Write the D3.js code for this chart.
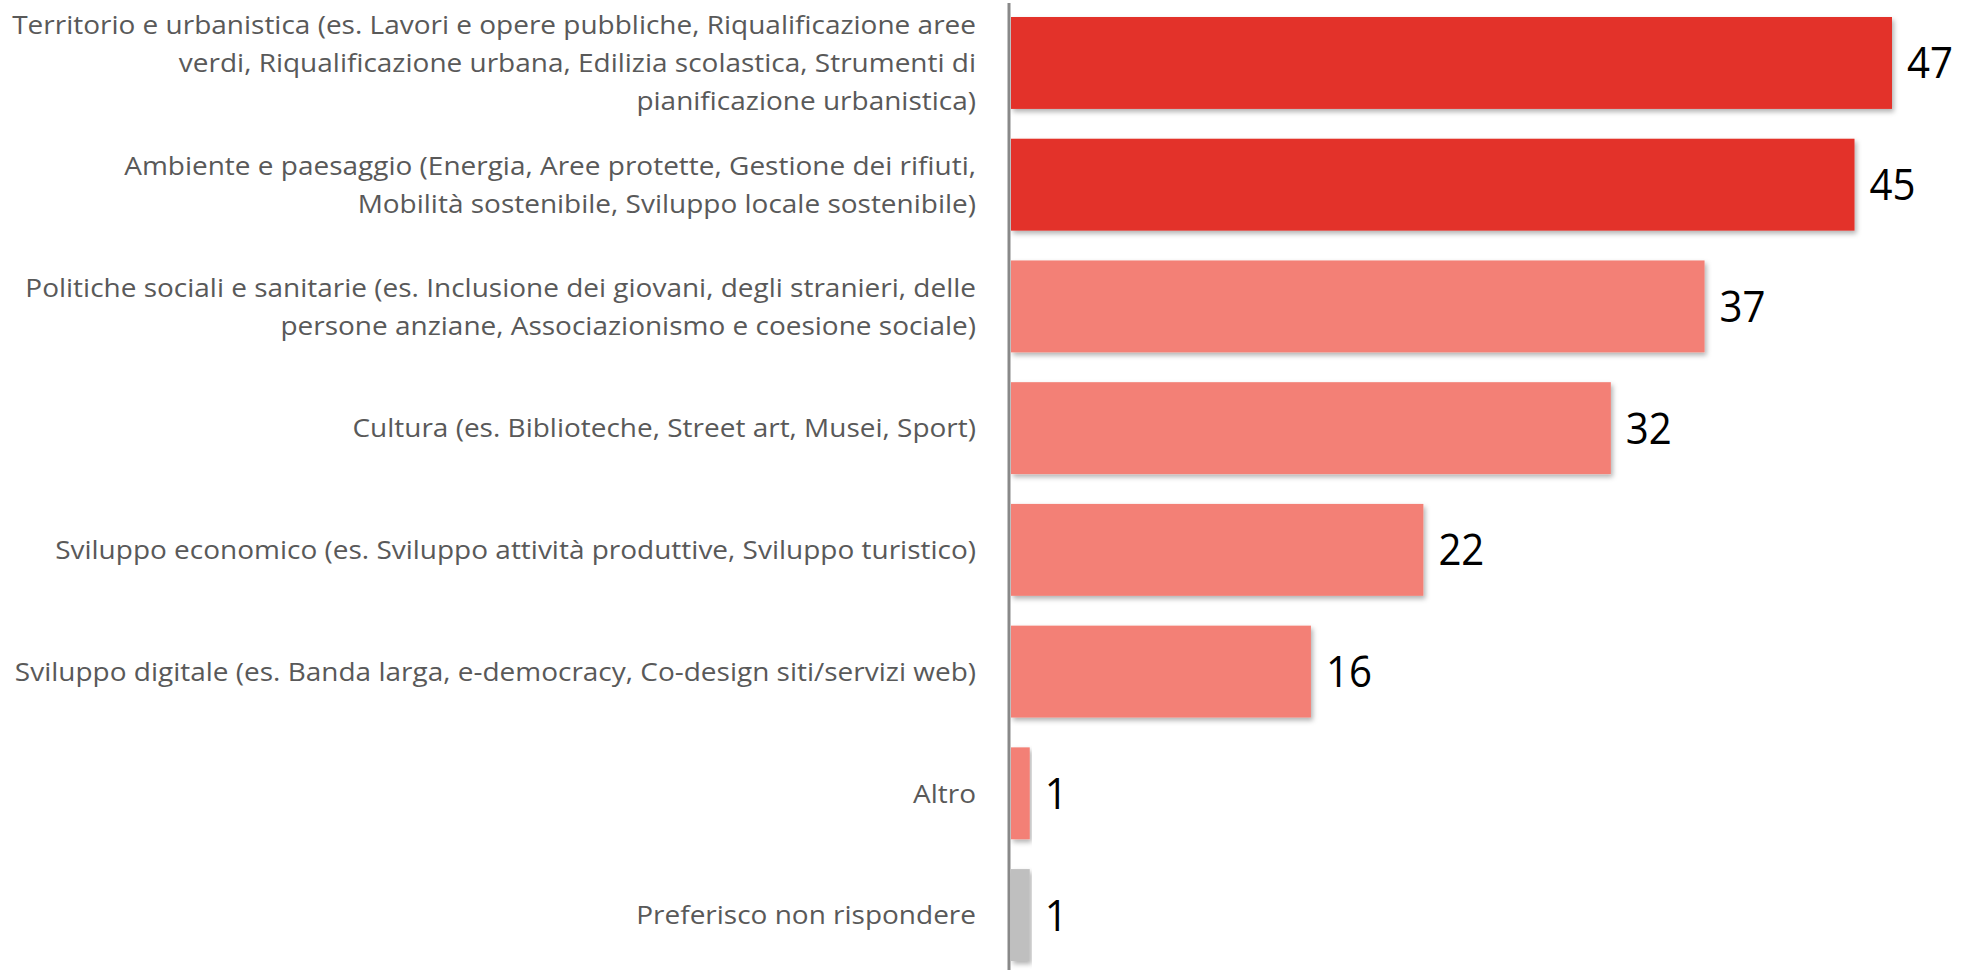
<!DOCTYPE html>
<html>
<head>
<meta charset="utf-8">
<script src="https://cdn.jsdelivr.net/npm/d3@7"></script>
<style>
  body { margin: 0; background: #fff; }
  svg { display: block; }
</style>
</head>
<body>
<div id="container"></div>
<script>
// categories, one entry per bar, already broken into lines as in the source
var categories = [
  ["Territorio e urbanistica (es. Lavori e opere pubbliche, Riqualificazione aree",
   "verdi, Riqualificazione urbana, Edilizia scolastica, Strumenti di",
   "pianificazione urbanistica)"],
  ["Ambiente e paesaggio (Energia, Aree protette, Gestione dei rifiuti,",
   "Mobilità sostenibile, Sviluppo locale sostenibile)"],
  ["Politiche sociali e sanitarie (es. Inclusione dei giovani, degli stranieri, delle",
   "persone anziane, Associazionismo e coesione sociale)"],
  ["Cultura (es. Biblioteche, Street art, Musei, Sport)"],
  ["Sviluppo economico (es. Sviluppo attività produttive, Sviluppo turistico)"],
  ["Sviluppo digitale (es. Banda larga, e-democracy, Co-design siti/servizi web)"],
  ["Altro"],
  ["Preferisco non rispondere"]
];
var values = [47, 45, 37, 32, 22, 16, 1, 1];
var groups = ["top", "top", "other", "other", "other", "other", "other", "none"];

var colors = { top: "#e3302a", other: "#f38076", none: "#bfbfbf" };

var width = 1961, height = 970;
var axisX = 1009, labelRight = 976;

var svg = d3.select("#container").append("svg")
    .attr("width", width)
    .attr("height", height);

var defs = svg.append("defs");
var filter = defs.append("filter")
    .attr("id", "shadow")
    .attr("x", "-5%").attr("y", "-10%")
    .attr("width", "115%").attr("height", "130%");
filter.append("feDropShadow")
    .attr("dx", 2).attr("dy", 3)
    .attr("stdDeviation", 2.5)
    .attr("flood-color", "#000")
    .attr("flood-opacity", 0.3);

var idx = d3.range(values.length);

var y = d3.scaleBand()
    .domain(idx)
    .range([17, 961])
    .paddingInner(0.245)
    .paddingOuter(0);

var x = d3.scaleLinear()
    .domain([0, 47])
    .range([axisX + 2, 1892]);

// bars
svg.selectAll(".bar")
    .data(idx)
  .enter().append("rect")
    .attr("class", "bar")
    .attr("x", x(0))
    .attr("y", function(i) { return y(i); })
    .attr("width", function(i) { return x(values[i]) - x(0); })
    .attr("height", y.bandwidth())
    .attr("fill", function(i) { return colors[groups[i]]; })
    .attr("filter", "url(#shadow)");

// vertical axis line
svg.append("line")
    .attr("x1", axisX).attr("x2", axisX)
    .attr("y1", 3).attr("y2", height)
    .attr("stroke", "#898989")
    .attr("stroke-width", 3);

// category labels
var labelFont = 25.5, lineHeight = 38;
var labelG = svg.append("g")
    .attr("font-family", "'Open Sans', sans-serif")
    .attr("font-size", labelFont)
    .attr("fill", "#595959")
    .attr("text-anchor", "end");

var probe = labelG.append("text").text(categories[0][0]);
var kLabel = 964 / probe.node().getComputedTextLength();
probe.remove();

idx.forEach(function(i) {
  var lines = categories[i];
  var cy = y(i) + y.bandwidth() / 2;
  lines.forEach(function(line, j) {
    var ly = cy + (j - (lines.length - 1) / 2) * lineHeight;
    labelG.append("text")
        .attr("transform", "translate(" + labelRight + "," + ly + ") scale(" + kLabel + ",1)")
        .attr("dy", "0.36em")
        .text(line);
  });
});

// value labels
var valueG = svg.append("g")
    .attr("font-family", "'Open Sans', sans-serif")
    .attr("font-size", 43)
    .attr("fill", "#000");

var probe2 = valueG.append("text").text("37");
var kValue = 46 / probe2.node().getComputedTextLength();
probe2.remove();

valueG.selectAll("text.val")
    .data(idx)
  .enter().append("text")
    .attr("class", "val")
    .attr("transform", function(i) {
      return "translate(" + (x(values[i]) + 15) + "," + (y(i) + y.bandwidth() / 2) + ") scale(" + kValue + ",1)";
    })
    .attr("dy", "0.36em")
    .text(function(i) { return values[i]; });
</script>
</body>
</html>
